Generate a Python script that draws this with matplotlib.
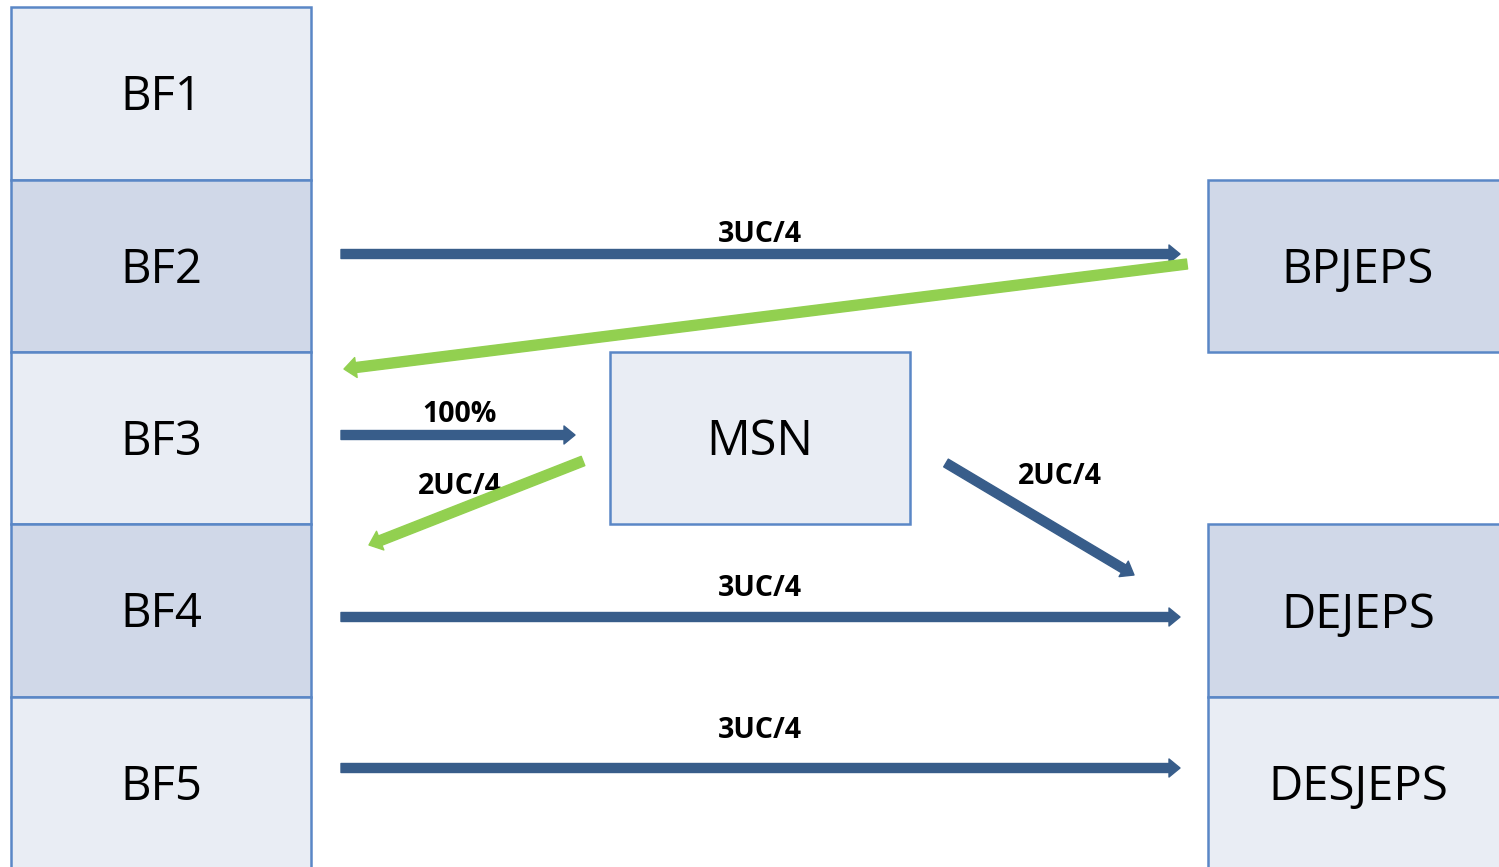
import matplotlib
matplotlib.use("Agg")
import matplotlib.pyplot as plt
from matplotlib.patches import Rectangle, FancyArrow

# ---- data ----
left_labels = ["BF1", "BF2", "BF3", "BF4", "BF5"]
right_labels = ["BPJEPS", "DEJEPS", "DESJEPS"]
center_label = "MSN"
arrow_labels = ["3UC/4", "100%", "2UC/4", "2UC/4", "3UC/4", "3UC/4"]

# ---- style ----
LIGHT = "#E9EDF4"
DARK = "#D0D8E8"
EDGE = "#5A87C6"
BLUE = "#385D8A"
GREEN = "#92D050"
FONT = "Open Sans"
TOFF = 4  # vertical text offset in px

fig = plt.figure(figsize=(14.99, 8.67), dpi=100)
ax = fig.add_axes([0, 0, 1, 1])
ax.set_xlim(0, 1499)
ax.set_ylim(867, 0)
ax.axis("off")

# left column
left_edges = [7, 180, 352, 524, 697, 880]
left_fills = [LIGHT, DARK, LIGHT, DARK, LIGHT]
centers_override = [None, None, None, None, 783]
for i, lab in enumerate(left_labels):
    y0, y1 = left_edges[i], left_edges[i + 1]
    fc = left_fills[i]
    ax.add_patch(Rectangle((11, y0), 300, y1 - y0, facecolor=fc,
                           edgecolor=EDGE, linewidth=1.8, zorder=1))
    cy = (y0 + y1) / 2 if centers_override[i] is None else centers_override[i]
    ax.text(161, cy + TOFF, lab, ha="center", va="center", fontsize=34,
            family=FONT, zorder=2)

# right column
right_boxes = [(180, 352, DARK, 266), (524, 697, DARK, 611), (697, 880, LIGHT, 783)]
for lab, (y0, y1, fc, cy) in zip(right_labels, right_boxes):
    ax.add_patch(Rectangle((1208, y0), 320, y1 - y0, facecolor=fc,
                           edgecolor=EDGE, linewidth=1.8, zorder=1))
    ax.text(1358, cy + TOFF, lab, ha="center", va="center", fontsize=34,
            family=FONT, zorder=2)

# MSN box
ax.add_patch(Rectangle((610, 352), 300, 172, facecolor=LIGHT,
                       edgecolor=EDGE, linewidth=1.8, zorder=1))
ax.text(760, 438 + TOFF, center_label, ha="center", va="center",
        fontsize=35, family=FONT, zorder=2)

def arrow(x0, y0, x1, y1, color, w, hw, hl):
    a = FancyArrow(x0, y0, x1 - x0, y1 - y0, width=w, head_width=hw,
                   head_length=hl, length_includes_head=True,
                   facecolor=color, edgecolor=color, linewidth=1.0,
                   joinstyle="round", zorder=4)
    ax.add_patch(a)

# blue horizontal arrows
arrow(341, 254, 1180, 254, BLUE, 9, 18, 11)
arrow(341, 435, 575, 435, BLUE, 9, 18, 11)
arrow(341, 617, 1180, 617, BLUE, 9, 18, 11)
arrow(341, 768, 1180, 768, BLUE, 9, 18, 11)
# blue diagonal
arrow(946, 463, 1134, 575, BLUE, 9, 18, 12)
# green arrows
arrow(1187, 264, 344, 369, GREEN, 10, 20, 12)
arrow(583, 461, 369, 545, GREEN, 10, 20, 12)

label_pos = [(760, 233), (460, 412), (460, 484), (1060, 474), (760, 587), (760, 728)]
for lab, (x, y) in zip(arrow_labels, label_pos):
    ax.text(x, y + 2, lab, ha="center", va="center", fontsize=20.5,
            fontweight="bold", family=FONT, zorder=3)

fig.savefig("out.png", dpi=100)
